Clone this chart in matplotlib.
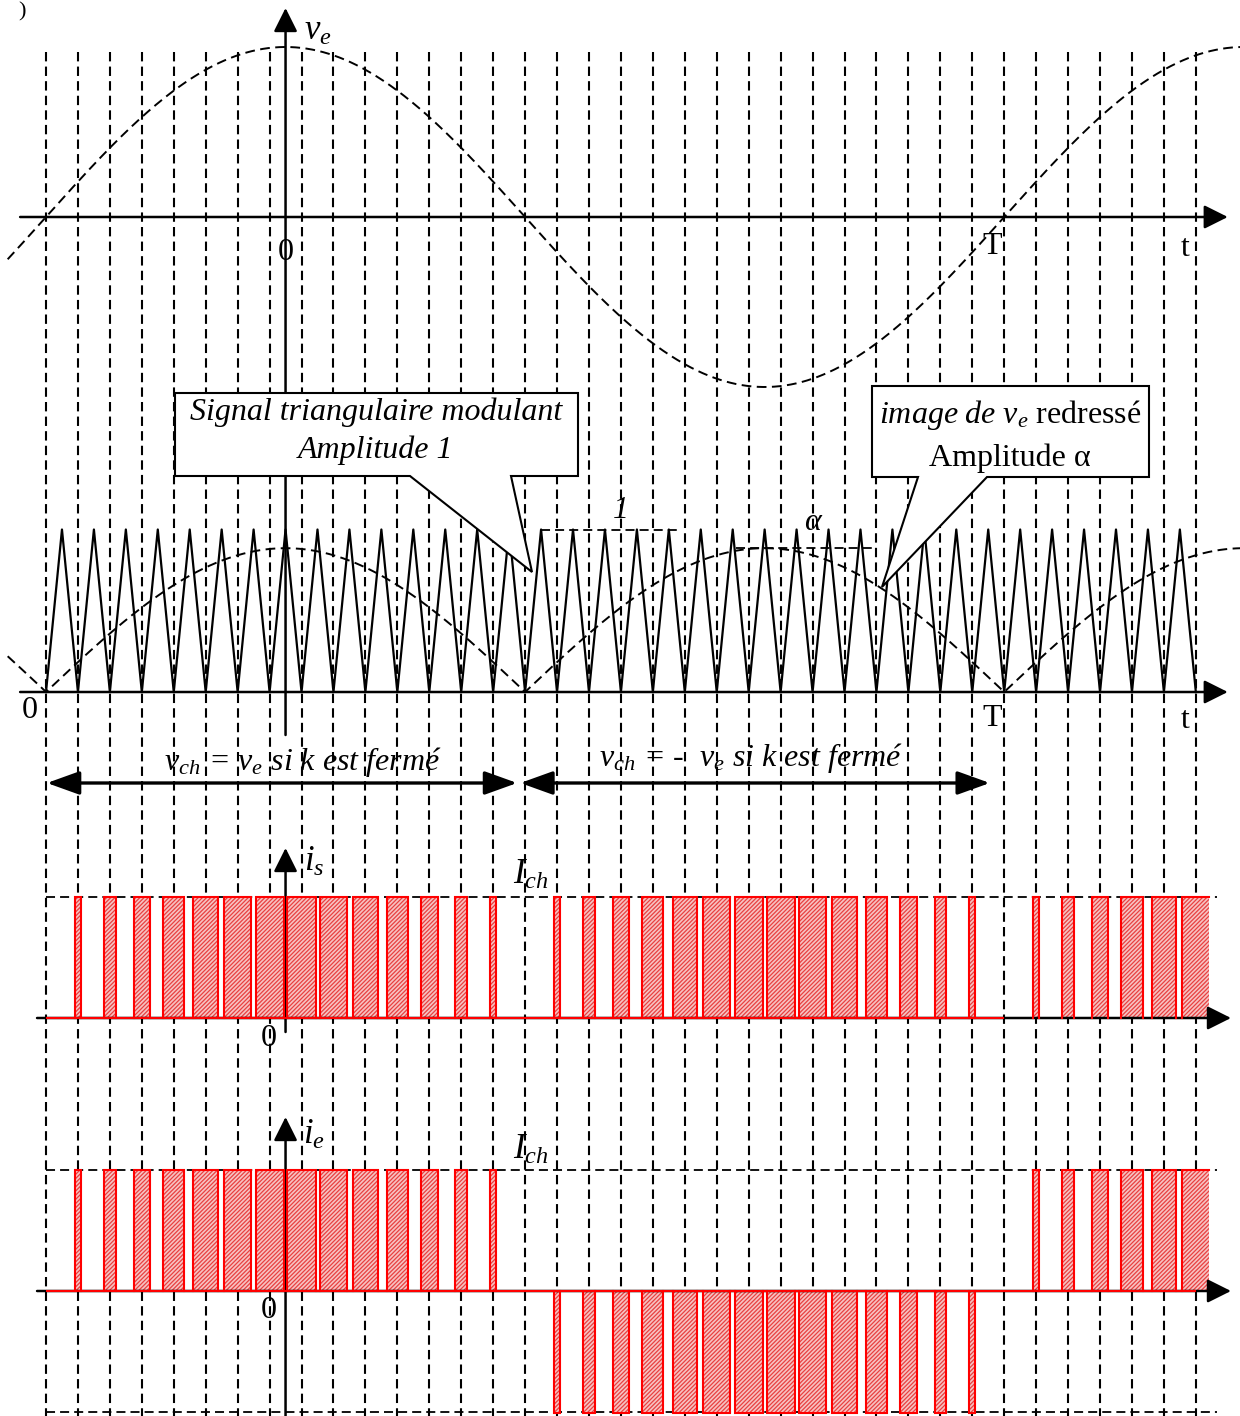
import matplotlib.pyplot as plt
import numpy as np
from matplotlib.patches import Polygon

plt.rcParams['font.family'] = ['Liberation Serif', 'DejaVu Serif']
plt.rcParams['mathtext.fontset'] = 'custom'
plt.rcParams['mathtext.rm'] = 'Liberation Serif'
plt.rcParams['mathtext.it'] = 'Liberation Serif:italic'
plt.rcParams['hatch.linewidth'] = 0.9

# ===== values ===== #
n_carrier = 36            # carrier periods drawn on the time axis
carrier_per_T = 30        # carrier periods in one period T of ve
t_axis = 7.5              # where the vertical axes stand (carrier periods)
alpha = 0.885             # amplitude of the rectified ve image (triangle = 1)
k_pulse = list(range(37))
duty = [0.00, 0.18, 0.36, 0.52, 0.66, 0.77, 0.84, 0.88, 0.88, 0.84, 0.77, 0.66, 0.52, 0.36, 0.18,
        0.00, 0.18, 0.36, 0.52, 0.66, 0.77, 0.84, 0.88, 0.88, 0.84, 0.77, 0.66, 0.52, 0.36, 0.18,
        0.00, 0.18, 0.36, 0.52, 0.66, 0.77, 0.84]
sign_s = [1] * 37
sign_e = [1] * 15 + [-1] * 15 + [1] * 7

# ===== layout (pixels) ===== #
W, H = 1240, 1416
X0, PX = 46, 31.94        # pixel of t=0, pixels per carrier period
XL = (-X0 / PX, (W - X0) / PX)

DASH = (5, 2.8)
RED = '#ff0000'
FS = 23

fig = plt.figure(figsize=(W / 100, H / 100), dpi=100)


def layer(base=None, unit=None, pixel_x=False):
    ax = fig.add_axes([0, 0, 1, 1])
    ax.set_xlim(0, W) if pixel_x else ax.set_xlim(*XL)
    if base is None:
        ax.set_ylim(H, 0)
    else:
        ax.set_ylim((base - H) / unit, base / unit)
    ax.axis('off')
    return ax


def arrow(ax, start, tip, style='-|>,head_length=1.0,head_width=0.5', ms=14.5, lw=1.8):
    ax.annotate('', xy=tip, xytext=start,
                arrowprops=dict(arrowstyle=style, mutation_scale=ms, lw=lw,
                                color='k', shrinkA=0, shrinkB=0))


t = np.linspace(-1.2, 37.4, 900)
ve = np.sin(2 * np.pi * t / carrier_per_T)

# ----- background grid + vertical axes (x: carrier periods, y: pixels) ----- #
bg = layer()
bg.vlines(k_pulse, 52, H, colors='k', lw=1.5, linestyles=(0, (4.5, 2.5)))
arrow(bg, (t_axis, 735), (t_axis, 8))
arrow(bg, (t_axis, 1032), (t_axis, 848))
arrow(bg, (t_axis, H), (t_axis, 1117))
span = '<|-|>,head_length=1.0,head_width=0.36'
arrow(bg, (0.03, 783), (14.75, 783), style=span, ms=20, lw=2.4)
arrow(bg, (14.85, 783), (29.55, 783), style=span, ms=20, lw=2.4)

# ----- ve ----- #
ax1 = layer(217, 170)
ax1.plot(t, ve, color='k', lw=1.4, dashes=DASH)
arrow(ax1, (-0.81, 0), (37.0, 0))

# ----- triangle carrier and rectified ve ----- #
ax2 = layer(692, 162.5)
tri_t = np.arange(0, n_carrier + 0.5, 0.5)
tri_v = np.arange(len(tri_t)) % 2
ax2.plot(tri_t, tri_v, color='k', lw=1.6)
ax2.plot(t, alpha * np.abs(ve), color='k', lw=1.4, dashes=DASH)
ax2.hlines(1, 15.5, 19.75, colors='k', lw=1.3, linestyles=(0, DASH))
ax2.hlines(alpha, 21.6, 25.9, colors='k', lw=1.3, linestyles=(0, DASH))
arrow(ax2, (-0.81, 0), (37.0, 0))


def pulses(ax, signs, base_end):
    ax.hlines(0, 0, base_end, colors=RED, lw=1.5, zorder=4)
    on = [(k, d, s) for k, d, s in zip(k_pulse, duty, signs) if d > 0]
    ax.bar([p[0] for p in on], [p[2] for p in on], width=[p[1] for p in on],
           facecolor='#f7c2c2', edgecolor='#e84040', hatch='////////', lw=0, zorder=2)
    for i, (k, d, s) in enumerate(on):
        a, b = k - d / 2, k + d / 2
        xs, ys = [a, a, b, b], [0, s, s, 0]
        if i == len(on) - 1:
            xs, ys = xs[:-1], ys[:-1]
        ax.plot(xs, ys, color=RED, lw=1.5, zorder=5, solid_joinstyle='miter')


# ----- i_s ----- #
ax3 = layer(1018, 121)
arrow(ax3, (-0.28, 0), (37.1, 0))
ax3.hlines(1, 0, 36.67, colors='k', lw=1.3, linestyles=(0, DASH))
pulses(ax3, sign_s, 30)

# ----- i_e ----- #
ax4 = layer(1291, 121.5)
arrow(ax4, (-0.28, 0), (37.1, 0))
ax4.hlines([1, -0.995], 0, 36.67, colors='k', lw=1.3, linestyles=(0, DASH))
pulses(ax4, sign_e, 36)

# ----- callouts and labels (pixels) ----- #
pix = layer(pixel_x=True)
box1 = [(175, 393), (578, 393), (578, 476), (511, 476), (532, 572), (410, 476), (175, 476)]
box2 = [(872, 386), (1149, 386), (1149, 477), (987, 477), (882, 587), (918, 477), (872, 477)]
for b in (box1, box2):
    pix.add_patch(Polygon(b, closed=True, facecolor='white', edgecolor='k', lw=1.5,
                          joinstyle='miter', zorder=3))

pix.text(376, 412, 'Signal triangulaire modulant', style='italic', fontsize=FS,
         ha='center', va='center', zorder=4)
pix.text(376, 450, 'Amplitude 1', style='italic', fontsize=FS, ha='center', va='center', zorder=4)
pix.text(1010, 415, r'$\mathit{image\ de\ v_e}$ redressé', fontsize=FS,
         ha='center', va='center', zorder=4)
pix.text(1010, 458, 'Amplitude α', fontsize=FS, ha='center', va='center', zorder=4)

pix.text(22, 12, ')', fontsize=16, ha='center', va='center')
pix.text(318, 31, r'$v_e$', fontsize=FS + 2, ha='center', va='center')
pix.text(286, 253, '0', fontsize=FS, ha='center', va='center')
pix.text(992, 246, 'T', fontsize=FS, ha='center', va='center')
pix.text(1185, 248, 't', fontsize=FS, ha='center', va='center')
pix.text(30, 710, '0', fontsize=FS, ha='center', va='center')
pix.text(992, 719, 'T', fontsize=FS, ha='center', va='center')
pix.text(1185, 721, 't', fontsize=FS, ha='center', va='center')
pix.text(621, 510, '1', style='italic', fontsize=FS, ha='center', va='center')
pix.text(812, 522, 'α', style='italic', fontsize=FS, ha='center', va='center')

pix.text(303, 762, r'$v_{ch}$ = $v_e$ si k est fermé', style='italic', fontsize=FS,
         ha='center', va='center')
pix.text(751, 758, r'$v_{ch}$ = -  $v_e$ si k est fermé', style='italic', fontsize=FS,
         ha='center', va='center')

pix.text(314, 862, r'$i_s$', fontsize=FS + 2, ha='center', va='center')
pix.text(531, 875, r'$I_{ch}$', fontsize=FS + 2, ha='center', va='center')
pix.text(269, 1038, '0', fontsize=FS, ha='center', va='center')
pix.text(314, 1135, r'$i_e$', fontsize=FS + 2, ha='center', va='center')
pix.text(531, 1150, r'$I_{ch}$', fontsize=FS + 2, ha='center', va='center')
pix.text(269, 1311, '0', fontsize=FS, ha='center', va='center')

fig.savefig('out.png', dpi=100)
